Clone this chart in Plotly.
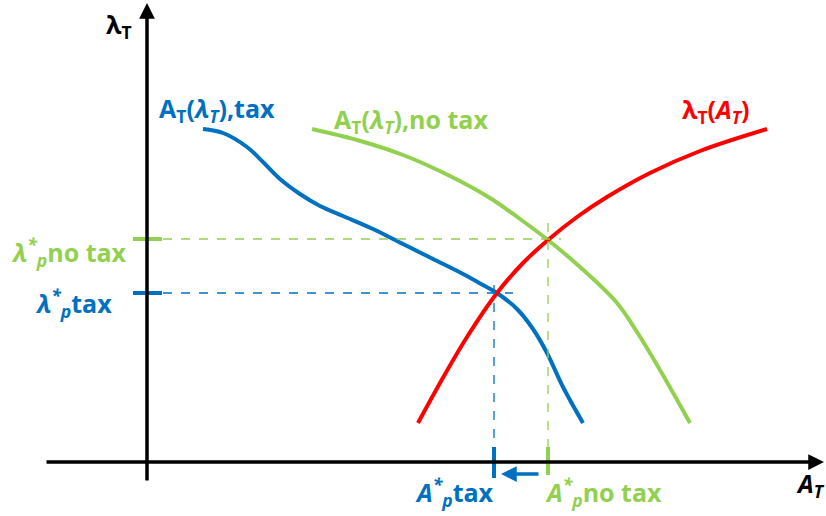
import plotly.graph_objects as go

# curve points (pixel-like units, y grows downward)
tax_x = [203, 223, 247, 263, 280, 300, 320, 343, 373, 403, 433, 463, 483, 497, 517, 533, 547, 563, 583]
tax_y = [129, 133, 147, 162, 179, 194, 206, 216, 229, 244, 259, 274, 285, 293, 309, 329, 353, 387, 423]

notax_x = [312, 357, 403, 450, 490, 520, 548, 580, 617, 637, 660, 690]
notax_y = [129, 140, 155, 176, 198, 219, 240, 267, 303, 332, 370, 423]

supply_x = [418, 440, 467, 497, 523, 548, 577, 607, 650, 700, 767]
supply_y = [423, 383, 337, 293, 263, 240, 217, 197, 173, 151, 129]

# equilibrium points
eq_tax = (494, 293)
eq_notax = (548, 239)

BLUE = '#0070C0'
GREEN = '#92D050'
RED = '#FF0000'
FONT = 'Open Sans'

fig = go.Figure()

fig.add_trace(go.Scatter(x=tax_x, y=tax_y, mode='lines', line=dict(color=BLUE, width=4, shape='spline', smoothing=1), hoverinfo='skip'))
fig.add_trace(go.Scatter(x=notax_x, y=notax_y, mode='lines', line=dict(color=GREEN, width=4, shape='spline', smoothing=1), hoverinfo='skip'))
fig.add_trace(go.Scatter(x=supply_x, y=supply_y, mode='lines', line=dict(color=RED, width=4, shape='spline', smoothing=1), hoverinfo='skip'))

shapes = []
# dashed guide lines
shapes.append(dict(type='line', x0=163, x1=561, y0=eq_notax[1], y1=eq_notax[1], line=dict(color=GREEN, width=1.3, dash='dash')))
shapes.append(dict(type='line', x0=eq_notax[0], x1=eq_notax[0], y0=223, y1=472, line=dict(color=GREEN, width=1.3, dash='dash')))
shapes.append(dict(type='line', x0=163, x1=513, y0=eq_tax[1], y1=eq_tax[1], line=dict(color=BLUE, width=1.3, dash='dash')))
shapes.append(dict(type='line', x0=eq_tax[0], x1=eq_tax[0], y0=285, y1=472, line=dict(color=BLUE, width=1.3, dash='dash')))
# tick marks
shapes.append(dict(type='line', x0=133, x1=162, y0=eq_notax[1], y1=eq_notax[1], line=dict(color=GREEN, width=4)))
shapes.append(dict(type='line', x0=133, x1=162, y0=eq_tax[1], y1=eq_tax[1], line=dict(color=BLUE, width=4)))
shapes.append(dict(type='line', x0=eq_tax[0], x1=eq_tax[0], y0=447, y1=478, line=dict(color=BLUE, width=4)))
shapes.append(dict(type='line', x0=eq_notax[0], x1=eq_notax[0], y0=447, y1=475, line=dict(color=GREEN, width=4)))

annotations = []
# axes as arrows
annotations.append(dict(x=147, y=3, ax=147, ay=482, xref='x', yref='y', axref='x', ayref='y', text='', showarrow=True, arrowhead=2, arrowsize=0.9, arrowwidth=3.5, arrowcolor='black'))
annotations.append(dict(x=824, y=462, ax=45, ay=462, xref='x', yref='y', axref='x', ayref='y', text='', showarrow=True, arrowhead=2, arrowsize=0.9, arrowwidth=3.5, arrowcolor='black'))
# shift arrow
annotations.append(dict(x=501, y=474, ax=540, ay=474, xref='x', yref='y', axref='x', ayref='y', text='', showarrow=True, arrowhead=2, arrowsize=0.9, arrowwidth=3.5, arrowcolor=BLUE))


def label(x, y, text, color, size=25, xanchor='left'):
    annotations.append(dict(x=x, y=y, xref='x', yref='y', text=text, showarrow=False, xanchor=xanchor, yanchor='middle',
                            font=dict(family=FONT, size=size, color=color)))


label(104, 25, '<b>λ<sub>T</sub></b>', 'black', 25)
label(157, 109, '<b>A<sub>T</sub>(<i>λ<sub>T</sub></i>),tax</b>', BLUE)
label(332, 120, '<b>A<sub>T</sub>(<i>λ<sub>T</sub></i>),no tax</b>', GREEN)
label(680, 110, '<b>λ<sub>T</sub>(<i>A<sub>T</sub></i>)</b>', RED)
label(9, 252, '<b><i>λ<sup>*</sup><sub>p</sub></i>no tax</b>', GREEN)
label(33, 303, '<b><i>λ<sup>*</sup><sub>p</sub></i>tax</b>', BLUE)
label(413, 492, '<b><i>A<sup>*</sup><sub>p</sub></i>tax</b>', BLUE)
label(543, 492, '<b><i>A<sup>*</sup><sub>p</sub></i>no tax</b>', GREEN)
label(794, 484, '<b><i>A<sub>T</sub></i></b>', 'black', 25)

fig.update_layout(
    width=826, height=516,
    margin=dict(l=0, r=0, t=0, b=0),
    showlegend=False,
    plot_bgcolor='white', paper_bgcolor='white',
    shapes=shapes, annotations=annotations,
    xaxis=dict(range=[0, 826], visible=False, fixedrange=True),
    yaxis=dict(range=[516, 0], visible=False, fixedrange=True),
)

fig.write_html('out.html', config={'displayModeBar': False},
               post_script="document.body.style.margin='0px';document.body.style.overflow='hidden';")
